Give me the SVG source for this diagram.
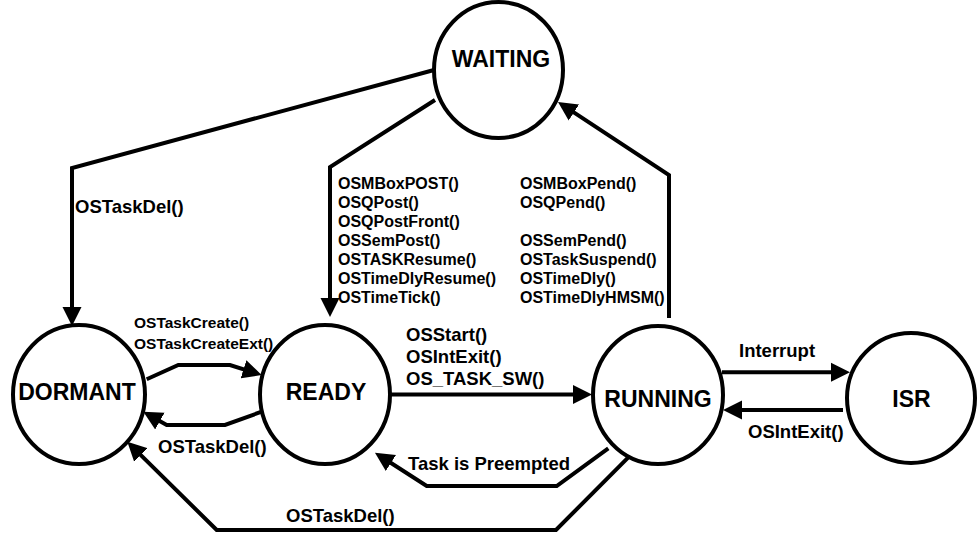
<svg xmlns="http://www.w3.org/2000/svg" width="977" height="538" viewBox="0 0 977 538">
<style>
.st{fill:#fff;stroke:#000;stroke-width:4}
.nl{font-family:"Liberation Sans",Arial,sans-serif;font-weight:bold;font-size:23px;fill:#000;text-anchor:middle}
.s16{font-family:"Liberation Sans",Arial,sans-serif;font-weight:bold;font-size:16px;fill:#000}
.s15{font-family:"Liberation Sans",Arial,sans-serif;font-weight:bold;font-size:15.5px;fill:#000}
.s18{font-family:"Liberation Sans",Arial,sans-serif;font-weight:bold;font-size:18.5px;fill:#000}
.c{fill:none;stroke:#000;stroke-width:4;stroke-linejoin:miter;marker-end:url(#ah)}
</style>
<defs>
<marker id="ah" markerUnits="userSpaceOnUse" viewBox="0 0 20 20" markerWidth="20" markerHeight="20" refX="11" refY="10" orient="auto">
<path d="M0,0.5 L19,10 L0,19.5 Z" fill="#000"/>
</marker>
</defs>
<rect width="977" height="538" fill="#fff"/>
<g id="connectors">
<path class="c" d="M434,70 L72,168 L72,318"/>
<path class="c" d="M435,100 L330,167 L330,309"/>
<path class="c" d="M669,318 L669,175 L564.7,106.4"/>
<path class="c" d="M146.7,379.3 L178.3,365 L230,365 L254,372.6"/>
<path class="c" d="M261.7,411.7 L225,425 L166.7,425 L150.3,415.7"/>
<path class="c" d="M390,394.5 L584,394.5"/>
<path class="c" d="M722,372.3 L842,372.3"/>
<path class="c" d="M843,410 L731,410"/>
<path class="c" d="M608.3,448.3 L556.7,486 L426.7,486 L381.7,457"/>
<path class="c" d="M628.3,457.3 L556,530 L216.7,530 L133,447.3"/>
</g>
<g id="labels">
<text class="s18" x="75" y="213">OSTaskDel()</text>
<text class="s16" x="338">
<tspan x="338" y="189">OSMBoxPOST()</tspan>
<tspan x="338" y="208">OSQPost()</tspan>
<tspan x="338" y="227">OSQPostFront()</tspan>
<tspan x="338" y="246">OSSemPost()</tspan>
<tspan x="338" y="265">OSTASKResume()</tspan>
<tspan x="338" y="284">OSTimeDlyResume()</tspan>
<tspan x="338" y="303">OSTimeTick()</tspan>
</text>
<text class="s16" x="520">
<tspan x="520" y="189">OSMBoxPend()</tspan>
<tspan x="520" y="208">OSQPend()</tspan>
<tspan x="520" y="246">OSSemPend()</tspan>
<tspan x="520" y="265">OSTaskSuspend()</tspan>
<tspan x="520" y="284">OSTimeDly()</tspan>
<tspan x="520" y="303">OSTimeDlyHMSM()</tspan>
</text>
<text class="s15" x="134">
<tspan x="134" y="328">OSTaskCreate()</tspan>
<tspan x="134" y="349">OSTaskCreateExt()</tspan>
</text>
<text class="s18" x="406">
<tspan x="406" y="341">OSStart()</tspan>
<tspan x="406" y="363">OSIntExit()</tspan>
<tspan x="406" y="385">OS_TASK_SW()</tspan>
</text>
<text class="s18" x="158" y="453">OSTaskDel()</text>
<text class="s18" x="286" y="522">OSTaskDel()</text>
<text class="s18" x="408" y="470">Task is Preempted</text>
<text class="s18" x="739" y="357">Interrupt</text>
<text class="s18" x="748" y="438">OSIntExit()</text>
</g>
<g id="waiting">
<ellipse class="st" cx="498.5" cy="70" rx="64.5" ry="68"/>
<text class="nl" x="501" y="67">WAITING</text>
</g>
<g id="dormant">
<ellipse class="st" cx="79" cy="394.5" rx="66" ry="69.5"/>
<text class="nl" x="77" y="400">DORMANT</text>
</g>
<g id="ready">
<ellipse class="st" cx="325" cy="394.5" rx="65" ry="69.5"/>
<text class="nl" x="326" y="400">READY</text>
</g>
<g id="running">
<ellipse class="st" cx="658" cy="395" rx="65" ry="69"/>
<text class="nl" x="658" y="407">RUNNING</text>
</g>
<g id="isr">
<ellipse class="st" cx="911" cy="398" rx="64" ry="65"/>
<text class="nl" x="911.5" y="407">ISR</text>
</g>
</svg>
